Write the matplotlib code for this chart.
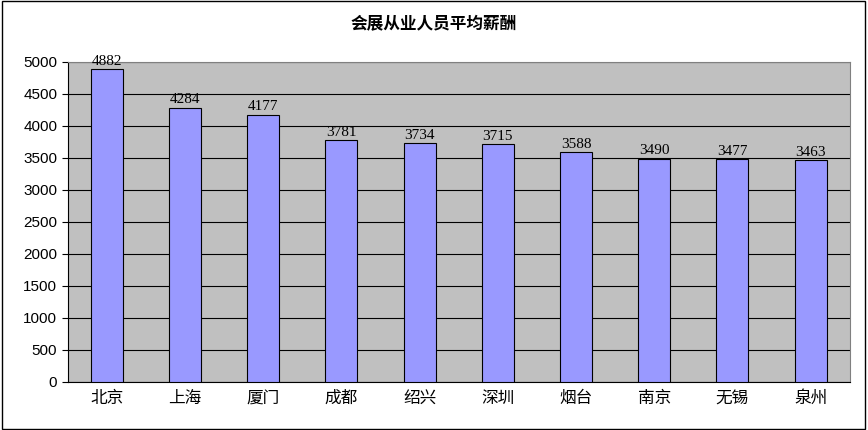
import matplotlib
matplotlib.use('Agg')
import matplotlib.pyplot as plt
from matplotlib.patches import Rectangle

cities = ['北京', '上海', '厦门', '成都', '绍兴', '深圳', '烟台', '南京', '无锡', '泉州']
salaries = [4882, 4284, 4177, 3781, 3734, 3715, 3588, 3490, 3477, 3463]

plt.rcParams['font.family'] = ['Noto Sans CJK SC', 'DejaVu Sans']

fig = plt.figure(figsize=(8.68, 4.30), dpi=100)
fig.patches.append(Rectangle((0.002, 0.003), 0.995, 0.994, transform=fig.transFigure,
                             fill=False, edgecolor='black', linewidth=1))
ax = fig.add_axes([0.078, 0.112, 0.901, 0.744])
ax.set_facecolor('#C0C0C0')

x = range(len(cities))
ax.bar(x, salaries, width=0.41, color='#9999FF', edgecolor='black', linewidth=0.8, zorder=3)
for xi, v in zip(x, salaries):
    ax.text(xi, v + 20, str(v), ha='center', va='bottom', fontsize=11,
            family='Liberation Serif', color='black', zorder=4)

ax.set_xlim(-0.5, len(cities) - 0.5)
ax.set_ylim(0, 5000)
ax.set_yticks(range(0, 5001, 500))
ax.yaxis.grid(True, color='black', linewidth=0.8, zorder=0)
ax.set_xticks(x)
ax.set_xticklabels(cities, fontsize=12)
ax.tick_params(axis='y', labelsize=11, length=4)
ax.tick_params(axis='x', length=0, pad=6)
for t in ax.get_yticklabels():
    t.set_family('Liberation Sans')
for s in ax.spines.values():
    s.set_color('#808080')
ax.spines['left'].set_color('black')
ax.spines['bottom'].set_color('black')

fig.text(0.5, 0.945, '会展从业人员平均薪酬', ha='center', va='center',
         fontsize=12, fontweight='bold')

fig.savefig('out.png', dpi=100)
